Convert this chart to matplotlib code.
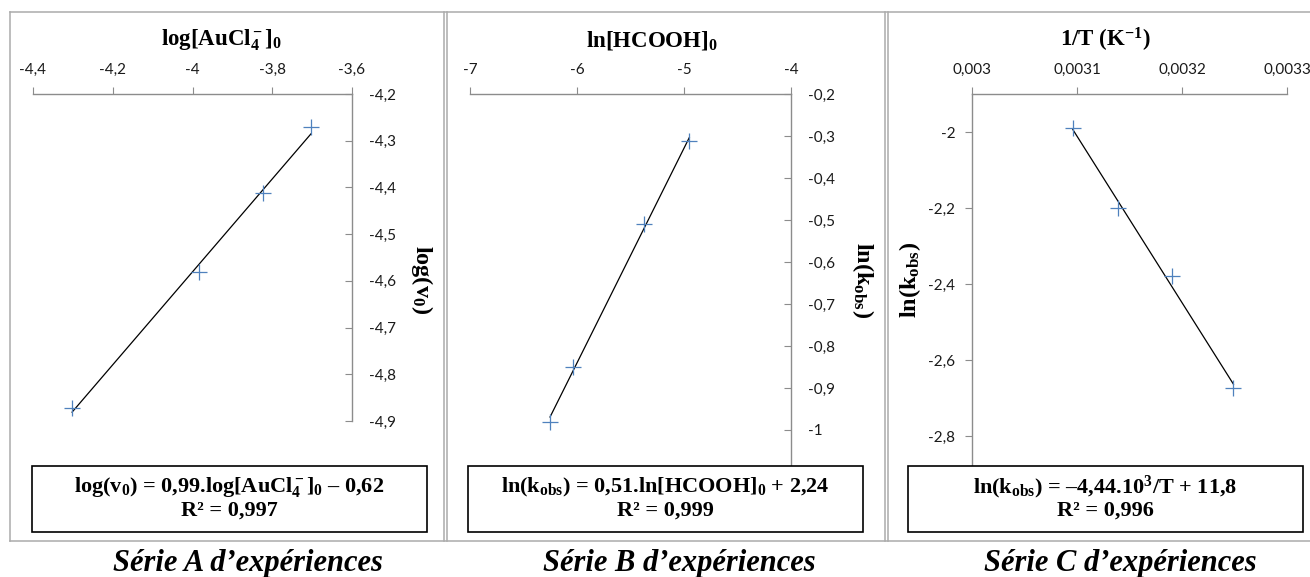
import matplotlib
matplotlib.use('Agg')
import matplotlib.pyplot as plt
import numpy as np
from matplotlib.patches import Rectangle
from matplotlib.lines import Line2D
from matplotlib.ticker import MultipleLocator, FixedLocator, FuncFormatter

# ---------------- data ----------------
xA = [-4.302, -3.984, -3.823, -3.703]   # log[AuCl4-]0
yA = [-4.872, -4.581, -4.412, -4.271]   # log(v0)

xB = [-6.252, -6.036, -5.371, -4.950]   # ln[HCOOH]0
yB = [-0.980, -0.849, -0.510, -0.311]   # ln(kobs)

xC = [0.003096, 0.003139, 0.003190, 0.003249]  # 1/T
yC = [-1.99, -2.20, -2.38, -2.674]             # ln(kobs)

yticksA = [-4.9, -4.8, -4.7, -4.6, -4.5, -4.4, -4.3, -4.2]
yticksB = [-1.0, -0.9, -0.8, -0.7, -0.6, -0.5, -0.4, -0.3, -0.2]
yticksC = [-2.8, -2.6, -2.4, -2.2, -2.0]

titles = [r'log[AuCl$_4^-$]$_0$', r'ln[HCOOH]$_0$', r'1/T (K$^{-1}$)']
ylabels = [r'log(v$_0$)', r'ln(k$_{obs}$)', r'ln(k$_{obs}$)']
eq1 = [r'log(v$_0$) = 0,99.log[AuCl$_4^-$]$_0$ – 0,62',
       r'ln(k$_{obs}$) = 0,51.ln[HCOOH]$_0$ + 2,24',
       r'ln(k$_{obs}$) = –4,44.10$^3$/T + 11,8']
eq2 = ['R² = 0,997', 'R² = 0,999', 'R² = 0,996']
subtitles = ['Série A d’expériences', 'Série B d’expériences', 'Série C d’expériences']

# ---------------- style ----------------
W, H = 1310, 577
plt.rcParams['mathtext.fontset'] = 'custom'
plt.rcParams['mathtext.rm'] = 'Liberation Serif:bold'
plt.rcParams['mathtext.it'] = 'Liberation Serif:bold:italic'
plt.rcParams['mathtext.bf'] = 'Liberation Serif:bold'
plt.rcParams['mathtext.default'] = 'rm'

SERIF = 'Liberation Serif'
TICKFONT = 'Lato'
AXC = '#8C8C8C'
FRAMEC = '#ABABAB'
MARKC = '#4F81BD'

fig = plt.figure(figsize=(W / 100, H / 100), dpi=100)


def fx(x):
    return x / W


def fy(y):
    return 1 - y / H


def add_axes(l, r, t, b):
    return fig.add_axes([fx(l), fy(b), (r - l) / W, (b - t) / H])


fmt = FuncFormatter(lambda v, p: f"{v:.6g}".replace('.', ','))


def style(ax, yside):
    for s in ('bottom', 'left', 'right', 'top'):
        ax.spines[s].set_visible(False)
    ax.spines['top'].set_visible(True)
    ax.spines[yside].set_visible(True)
    for s in ax.spines.values():
        s.set_color(AXC)
        s.set_linewidth(1.0)
    ax.patch.set_alpha(0)
    ax.xaxis.tick_top()
    ax.tick_params(axis='x', direction='out', length=5, width=0.8, color=AXC,
                   labelsize=11, pad=7, labelcolor='#1a1a1a')
    if yside == 'right':
        ax.yaxis.tick_right()
        ax.tick_params(axis='y', direction='in', length=5, width=0.8, color=AXC,
                       labelsize=11, pad=12, labelcolor='#1a1a1a')
    else:
        ax.yaxis.tick_left()
        ax.tick_params(axis='y', direction='out', length=5, width=0.8, color=AXC,
                       labelsize=11, pad=7, labelcolor='#1a1a1a')
    for lab in ax.get_xticklabels() + ax.get_yticklabels():
        lab.set_fontfamily(TICKFONT)
    ax.xaxis.set_major_formatter(fmt)
    ax.yaxis.set_major_formatter(fmt)


def plot_series(ax, x, y):
    x = np.asarray(x)
    y = np.asarray(y)
    k, b = np.polyfit(x, y, 1)
    xx = np.array([x.min(), x.max()])
    ax.plot(xx, k * xx + b, color='black', lw=0.9, clip_on=False, zorder=2)
    ax.plot(x, y, linestyle='none', marker='+', markersize=11, markeredgewidth=0.9,
            color=MARKC, clip_on=False, zorder=3)


# Panel A
axA = add_axes(33, 352, 94, 421)
axA.set_xlim(-4.4, -3.6)
axA.set_ylim(-4.9, -4.2)
axA.xaxis.set_major_locator(MultipleLocator(0.2))
axA.yaxis.set_major_locator(FixedLocator(yticksA))
plot_series(axA, xA, yA)
style(axA, 'right')

# Panel B
axB = add_axes(470, 791, 94, 472)
axB.set_xlim(-7, -4)
axB.set_ylim(-1.1, -0.2)
axB.xaxis.set_major_locator(MultipleLocator(1))
axB.yaxis.set_major_locator(FixedLocator(yticksB))
plot_series(axB, xB, yB)
style(axB, 'right')

# Panel C
axC = add_axes(972, 1287, 94, 512)
axC.set_xlim(0.0030, 0.0033)
axC.set_ylim(-3.0, -1.9)
axC.xaxis.set_major_locator(MultipleLocator(0.0001))
axC.yaxis.set_major_locator(FixedLocator(yticksC))
plot_series(axC, xC, yC)
style(axC, 'left')

# axis titles
for cx, t in zip([222, 652, 1105], titles):
    fig.text(fx(cx), fy(40), t, ha='center', va='center', fontsize=16.5,
             fontfamily=SERIF, fontweight='bold')

# y labels
fig.text(fx(422), fy(280), ylabels[0], ha='center', va='center', rotation=270,
         fontsize=17.5, fontfamily=SERIF, fontweight='bold')
fig.text(fx(863), fy(280), ylabels[1], ha='center', va='center', rotation=270,
         fontsize=17.5, fontfamily=SERIF, fontweight='bold')
fig.text(fx(910), fy(280), ylabels[2], ha='center', va='center', rotation=90,
         fontsize=17.5, fontfamily=SERIF, fontweight='bold')

# equation boxes
boxes = [(32, 427), (468, 863), (908, 1303)]
for (l, r), a, b in zip(boxes, eq1, eq2):
    rect = Rectangle((fx(l), fy(532)), (r - l) / W, (532 - 466) / H,
                     transform=fig.transFigure, facecolor='white',
                     edgecolor='black', linewidth=1.2, zorder=5)
    fig.add_artist(rect)
    cx = (l + r) / 2
    fig.text(fx(cx), fy(487), a, ha='center', va='center', fontsize=16,
             fontfamily=SERIF, fontweight='bold', zorder=6)
    fig.text(fx(cx), fy(511), b, ha='center', va='center', fontsize=16,
             fontfamily=SERIF, fontweight='bold', zorder=6)

# outer frames
lines = [((10, 1310), (12, 12)), ((10, 1310), (541, 541)),
         ((10, 10), (12, 541)), ((443.5, 443.5), (12, 541)),
         ((446.5, 446.5), (12, 541)), ((884.5, 884.5), (12, 541)),
         ((887.5, 887.5), (12, 541))]
for xs, ys in lines:
    fig.add_artist(Line2D([fx(v) for v in xs], [fy(v) for v in ys],
                          transform=fig.transFigure, color=FRAMEC, lw=1.1, zorder=1))

# subtitles
for cx, s in zip([248, 679, 1120], subtitles):
    fig.text(fx(cx), fy(563), s, ha='center', va='center', fontsize=22,
             fontfamily=SERIF, fontweight='bold', fontstyle='italic')

fig.savefig('out.png', dpi=100)
